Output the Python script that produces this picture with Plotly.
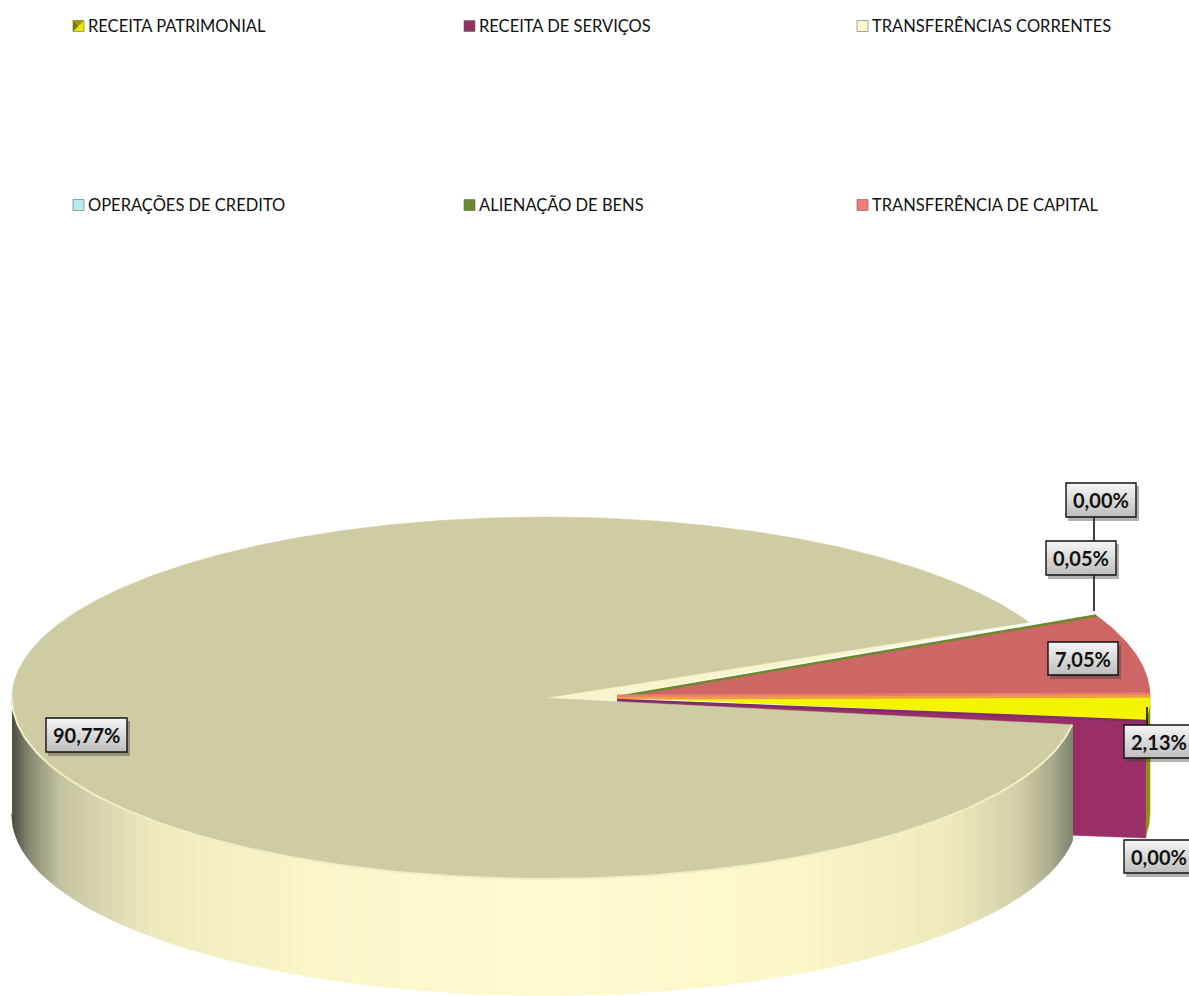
import numpy as np
import plotly.graph_objects as go

categories = ["RECEITA PATRIMONIAL", "RECEITA DE SERVIÇOS", "TRANSFERÊNCIAS CORRENTES",
              "OPERAÇÕES DE CREDITO", "ALIENAÇÃO DE BENS", "TRANSFERÊNCIA DE CAPITAL"]
shares = [2.13, 0.00, 90.77, 0.00, 0.05, 7.05]
share_labels = ["2,13%", "0,00%", "90,77%", "0,00%", "0,05%", "7,05%"]
top_colors = ["#f4f400", "#992f66", "#cdcca3", "#b5ecf0", "#6b8a2c", "#cd6766"]
swatch_colors = ["#e8e800", "#93305f", "#fbf9cc", "#b5ecf0", "#6b8a2c", "#ef7b78"]

W, H = 1189, 996
START = -0.8
CX, CY, RX, RY = 545, 698, 533, 181
EX, EY, ERX, ERY = 617, 697, 533, 186
E_TURN = 1.4
DEPTH = 116

cum = np.cumsum([0] + shares)
a0 = START - cum[:-1] * 3.6
a1 = START - cum[1:] * 3.6


def rim(t, cx, cy, rx, ry):
    t = np.radians(t)
    return cx + rx * np.cos(t), cy - ry * np.sin(t)


def sector(t0, t1, cx, cy, rx, ry):
    ts = np.linspace(t0, t1, max(3, int(abs(t1 - t0) * 2)))
    x, y = rim(ts, cx, cy, rx, ry)
    return np.r_[cx, x, cx], np.r_[cy, y, cy]


def poly(fig, x, y, color, line=0.5, lc=None):
    fig.add_trace(go.Scatter(x=x, y=y, mode="lines", fill="toself", fillcolor=color,
                             line=dict(color=lc or color, width=line), hoverinfo="skip",
                             showlegend=False))


def mix(x):
    xs = [12, 30, 60, 150, 300, 540, 800, 950, 1020, 1050, 1072]
    cs = np.array([[0x4c, 0x4c, 0x40], [0x8a, 0x8a, 0x74], [0xc4, 0xc4, 0xa0], [0xee, 0xea, 0xbe],
                   [0xfa, 0xf6, 0xca], [0xfe, 0xfb, 0xd1], [0xfb, 0xf7, 0xca], [0xee, 0xea, 0xbc],
                   [0xd0, 0xcf, 0xa8], [0xae, 0xae, 0x90], [0x7e, 0x86, 0x70]])
    return "rgb(%d,%d,%d)" % tuple(np.interp(x, xs, cs[:, k]) for k in range(3))


fig = go.Figure()

# exploded wedge: side walls
yi, mi = 0, 2
rx1, ry1 = rim(a1[yi] + E_TURN, EX, EY, ERX, ERY)
poly(fig, [EX, rx1, rx1, EX], [EY + 4, ry1, ry1 + DEPTH + 2, EY + DEPTH + 6], "#992f66")
ts = np.linspace(a1[yi] + E_TURN, 0, 12)
rxs, rys = rim(ts, EX, EY, ERX, ERY)
poly(fig, np.r_[rxs, rxs[::-1]], np.r_[rys, rys[::-1] + DEPTH], "#8d8f10")

# inner cut face of the main sector
ux, uy = rim(a1[mi], CX, CY, RX, RY)
poly(fig, [CX, ux, EX, EX], [CY, uy, EY - 2, EY + 4], "#f8f5cc")

# exploded wedge: top faces
for i in (5, 4, 0):
    x, y = sector(a0[i] + E_TURN, a1[i] + E_TURN, EX, EY, ERX, ERY)
    poly(fig, x, y, top_colors[i], 1 if i != 4 else 2.5)
ex, ey = rim(a0[0] + E_TURN, EX, EY, ERX, ERY)
fig.add_trace(go.Scatter(x=[EX, ex], y=[EY, ey], mode="lines", line=dict(color="#e8806a", width=5),
                         hoverinfo="skip", showlegend=False))
fig.add_trace(go.Scatter(x=[EX, ex], y=[EY + 1, ey + 1], mode="lines", line=dict(color="#f4a040", width=2),
                         hoverinfo="skip", showlegend=False))
lx, ly = rim(a1[0] + E_TURN, EX, EY, ERX, ERY)
fig.add_trace(go.Scatter(x=[EX, lx], y=[EY + 3, ly + 1], mode="lines", line=dict(color="#7b2f6a", width=2.5),
                         hoverinfo="skip", showlegend=False))

# main sector wall, lit strip by strip (finer near the dark ends)
x_edges = np.r_[np.arange(CX - RX, 100, 3), np.arange(100, 980, 12), np.arange(980, 1079, 3)]
x_edges = x_edges[x_edges < rim(a0[mi], CX, CY, RX, RY)[0]]
x_edges = np.r_[x_edges, rim(a0[mi], CX, CY, RX, RY)[0]]
t_edges = -np.degrees(np.arccos(np.clip((x_edges - CX) / RX, -1, 1)))
for t0, t1 in zip(t_edges[:-1], t_edges[1:]):
    ts = np.linspace(t0, t1, 4)
    x, y = rim(ts, CX, CY, RX, RY)
    poly(fig, np.r_[x, x[::-1]], np.r_[y, y[::-1] + DEPTH], mix(x.mean()), 1.5)

# main sector top face and lit rim
x, y = sector(a0[mi], a1[mi], CX, CY, RX, RY)
poly(fig, x, y, top_colors[mi], 0.5)
ts = np.linspace(a0[mi], -180, 150)
x, y = rim(ts, CX, CY, RX, RY)
fig.add_trace(go.Scatter(x=x, y=y, mode="lines", line=dict(color="#f1eec3", width=2),
                         hoverinfo="skip", showlegend=False))

shapes, annotations = [], []

# legend (three columns, two rows, wide gaps as in the source)
legend_x = [73, 464, 857]
legend_y = [26, 205]
for i, name in enumerate(categories):
    lxp, lyp = legend_x[i % 3], legend_y[i // 3]
    shapes.append(dict(type="rect", x0=lxp, x1=lxp + 11, y0=lyp - 5.5, y1=lyp + 5.5,
                       fillcolor=swatch_colors[i], line=dict(color="#666666", width=0.6), layer="above"))
    annotations.append(dict(x=lxp + 13, y=lyp, text=name, showarrow=False, xanchor="left", yanchor="middle",
                            font=dict(family="Lato, Carlito, sans-serif", size=16.5, color="#111111")))
shapes.append(dict(type="path", path="M 73 20.5 L 78.5 26 L 73 31.5 Z", fillcolor="#77770e", line=dict(width=0), layer="above"))
shapes.append(dict(type="path", path="M 73 20.5 L 84 20.5 L 78.5 26 Z", fillcolor="#9a9a10", line=dict(width=0), layer="above"))

# leader lines
for x0, y0, x1, y1 in [(1094, 517, 1094, 541), (1094, 575, 1094, 611), (1147, 707, 1147, 725)]:
    shapes.append(dict(type="line", x0=x0, x1=x1, y0=y0, y1=y1, line=dict(color="#111111", width=1.6), layer="above"))

# data label boxes: (share index, left, top, right, bottom)
boxes = [(3, 1066, 483, 1136, 517), (4, 1046, 541, 1116, 575), (5, 1048, 642, 1118, 675),
         (0, 1124, 725, 1194, 758), (1, 1124, 840, 1194, 873), (2, 46, 718, 127, 752)]
for i, l, t, r, b in boxes:
    shapes.append(dict(type="rect", x0=l + 2, x1=r + 3, y0=t + 3, y1=b + 4, fillcolor="rgba(60,60,50,0.4)",
                       line=dict(width=0), layer="above"))
    n = 12
    for k in range(n):
        g = int(np.interp(k, [0, n - 1], [244, 192]))
        shapes.append(dict(type="rect", x0=l, x1=r, y0=t + (b - t) * k / n, y1=b,
                           fillcolor=f"rgb({g},{g},{g})", line=dict(width=0), layer="above"))
    shapes.append(dict(type="rect", x0=l, x1=r, y0=t, y1=b, fillcolor="rgba(0,0,0,0)",
                       line=dict(color="#111111", width=1.4), layer="above"))
    annotations.append(dict(x=(l + r) / 2, y=(t + b) / 2, text=f"<b>{share_labels[i]}</b>", showarrow=False,
                            font=dict(family="Lato, Carlito, sans-serif", size=20, color="#111111")))

fig.update_layout(width=W, height=H, margin=dict(l=0, r=0, t=0, b=0), showlegend=False,
                  paper_bgcolor="white", plot_bgcolor="white", shapes=shapes, annotations=annotations,
                  xaxis=dict(range=[0, W], visible=False, fixedrange=True),
                  yaxis=dict(range=[H, 0], visible=False, fixedrange=True))
fig.write_html("out.html", config={"displayModeBar": False},
               post_script="document.body.style.margin='0';document.body.style.overflow='hidden';")
